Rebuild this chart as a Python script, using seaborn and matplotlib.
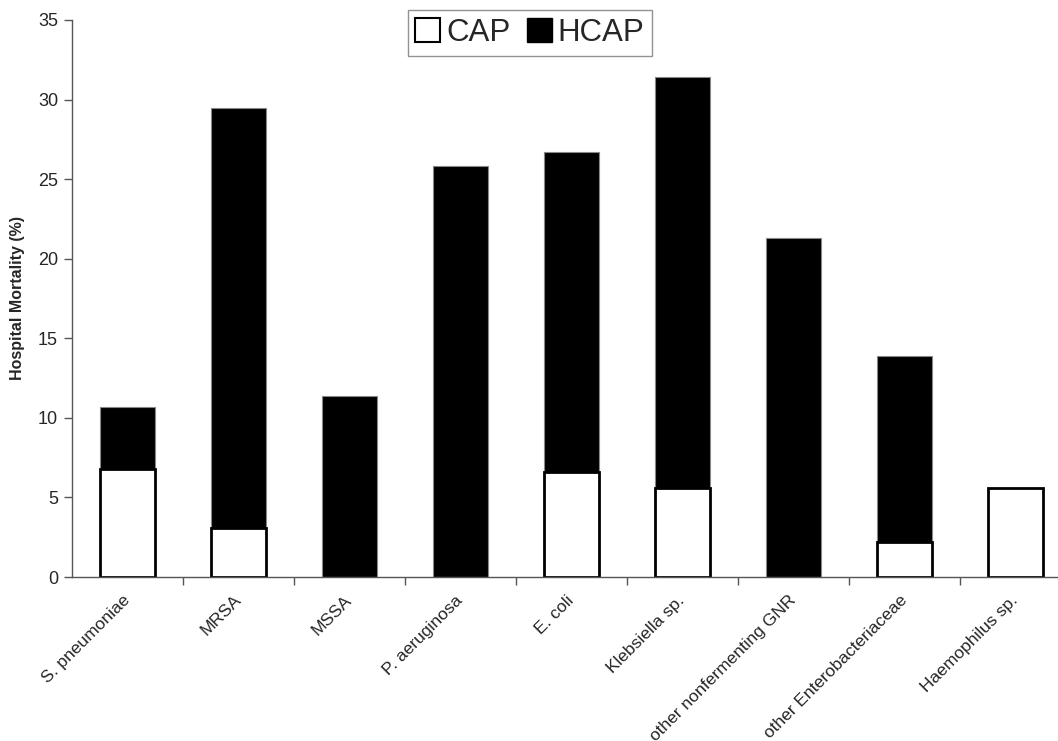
import matplotlib
matplotlib.use("Agg")
import matplotlib.pyplot as plt
import seaborn as sns
import pandas as pd
from matplotlib.patches import Patch
from matplotlib.ticker import FixedLocator

# Дані
pathogens = [
    'S. pneumoniae', 'MRSA', 'MSSA', 'P. aeruginosa', 'E. coli',
    'Klebsiella sp.', 'other nonfermenting GNR', 'other Enterobacteriaceae',
    'Haemophilus sp.'
]
hcap_mortality = [10.7, 29.5, 11.4, 25.8, 26.7, 31.4, 21.3, 13.9, 0.0]
cap_mortality = [6.8, 3.1, 0.0, 0.0, 6.6, 5.6, 0.0, 2.2, 5.6]
y_ticks = [0, 5, 10, 15, 20, 25, 30, 35]

df = pd.DataFrame({'pathogen': pathogens, 'HCAP': hcap_mortality, 'CAP': cap_mortality})

sns.set_style('white')
plt.rcParams['font.family'] = ['Liberation Sans', 'DejaVu Sans']

fig = plt.figure(figsize=(10.58, 7.41), dpi=100)
ax = fig.add_axes([72 / 1058, 1 - 577 / 741, 999 / 1058, 557 / 741])

# HCAP (чорні) позаду, CAP (білі) попереду
sns.barplot(data=df, x='pathogen', y='HCAP', color='black', width=0.5,
            edgecolor='#888888', linewidth=0.8, ax=ax, saturation=1)
sns.barplot(data=df[df['CAP'] > 0], x='pathogen', y='CAP', color='white', width=0.5,
            edgecolor='black', linewidth=2, ax=ax, saturation=1, order=pathogens)

ax.set_xlim(-0.5, len(pathogens) - 0.5)
ax.set_ylim(0, 35)
ax.set_yticks(y_ticks)
ax.tick_params(axis='y', labelsize=13, length=6, width=1, color='#555555',
               direction='out', left=True, pad=4)
ax.set_ylabel('Hospital Mortality (%)', fontsize=11.5, fontweight='bold', labelpad=9)
ax.set_xlabel('')

ax.set_xticks(range(len(pathogens)))
ax.set_xticklabels(pathogens, rotation=45, ha='right', va='center',
                   rotation_mode='anchor', fontsize=12.5)
ax.tick_params(axis='x', which='major', length=0, pad=15)
ax.xaxis.set_minor_locator(FixedLocator([i - 0.5 for i in range(1, len(pathogens) + 1)]))
ax.tick_params(axis='x', which='minor', length=6, width=1, color='#555555',
               direction='out', bottom=True)

for side in ['top', 'right']:
    ax.spines[side].set_visible(False)
for side in ['left', 'bottom']:
    ax.spines[side].set_color('#555555')
    ax.spines[side].set_linewidth(1)

handles = [Patch(facecolor='white', edgecolor='black', linewidth=1.5, label='CAP'),
           Patch(facecolor='black', edgecolor='black', label='HCAP')]
leg = fig.legend(handles=handles, loc='upper center', bbox_to_anchor=(0.501, 0.986),
                 ncol=2, fontsize=22.5, frameon=True, fancybox=False,
                 handlelength=0.8, handleheight=0.8, handletextpad=0.2,
                 columnspacing=0.5, borderpad=0.25, borderaxespad=0)
leg.get_frame().set_edgecolor('#777777')
leg.get_frame().set_linewidth(1)

fig.savefig('out.png', dpi=100)
